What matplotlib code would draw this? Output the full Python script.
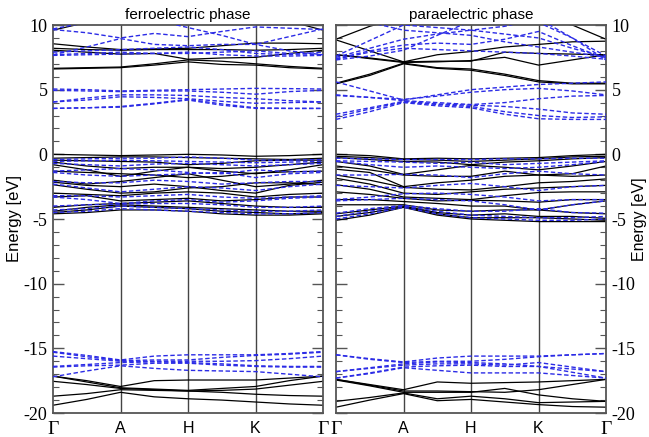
import matplotlib
matplotlib.use("Agg")
import matplotlib.pyplot as plt
from matplotlib.ticker import MultipleLocator

plt.rcParams["font.family"] = ["Liberation Serif", "DejaVu Serif"]
plt.rcParams["axes.unicode_minus"] = False

# k-path sample positions: Γ, ½, A, ½, H, ½, K, ½, Γ
kpath = [0, 0.5, 1, 1.5, 2, 2.5, 3, 3.5, 4]
klabels = ["Γ", "A", "H", "K", "Γ"]
kticks = [0, 1, 2, 3, 4]
titles = ["ferroelectric phase", "paraelectric phase"]
ylabel = "Energy [eV]"

# ---------------- ferroelectric phase ----------------
fe_black_cond = [
    [9.6, 10.2, 10.8, 11, 11, 11, 10.7, 10.3, 9.6],
    [8.55, 8.3, 8.1, 8.15, 8.2, 8.4, 8.6, 8.6, 8.55],
    [8.2, 8.1, 8.05, 8.1, 8.1, 8.1, 8.05, 8.1, 8.2],
    [8.05, 7.9, 7.75, 7.8, 7.35, 7.45, 7.5, 7.8, 8.05],
    [6.65, 6.7, 6.75, 7.0, 7.3, 7.2, 7.0, 6.8, 6.65],
    [6.6, 6.65, 6.7, 6.9, 7.15, 6.95, 6.9, 6.7, 6.6],
]
fe_blue_cond = [
    [9.65, 9.4, 9.0, 9.35, 9.1, 9.5, 9.85, 9.75, 9.65],
    [9.7, 10.2, 10.6, 10.4, 9.8, 9.2, 8.5, 9.1, 9.7],
    [7.7, 8.3, 8.95, 8.5, 8.4, 8.5, 8.5, 8.0, 7.7],
    [7.9, 8.0, 8.1, 8.2, 8.3, 8.1, 7.8, 7.7, 7.9],
    [7.7, 7.8, 7.9, 7.8, 7.8, 7.9, 8.0, 7.8, 7.7],
    [7.65, 7.7, 7.75, 7.8, 7.9, 7.7, 7.6, 7.6, 7.65],
    [5.05, 5.0, 4.9, 4.95, 5.0, 5.05, 5.1, 5.08, 5.05],
    [4.95, 4.9, 4.85, 4.9, 4.9, 4.8, 4.65, 4.85, 4.95],
    [4.05, 4.35, 4.6, 4.6, 4.55, 4.4, 4.3, 4.15, 4.05],
    [4.05, 4.2, 4.45, 4.4, 4.3, 4.1, 3.95, 4.0, 4.05],
    [3.55, 3.6, 3.7, 3.95, 4.25, 3.9, 3.6, 3.55, 3.55],
    [3.55, 3.6, 3.65, 3.9, 4.2, 3.8, 3.55, 3.55, 3.55],
]
fe_black_val = [
    [0.0, -0.05, -0.1, -0.05, 0.0, -0.05, -0.15, -0.1, 0.0],
    [-0.3, -0.25, -0.2, -0.2, -0.25, -0.3, -0.35, -0.4, -0.3],
    [-0.45, -0.5, -0.55, -0.6, -0.8, -0.7, -0.5, -0.45, -0.45],
    [-0.6, -0.9, -1.1, -1.0, -1.0, -1.1, -1.0, -0.8, -0.6],
    [-0.8, -1.2, -1.7, -1.3, -1.0, -1.3, -1.5, -1.2, -0.8],
    [-1.3, -1.4, -1.5, -1.6, -1.8, -1.7, -1.45, -1.35, -1.3],
    [-2.0, -2.3, -2.1, -1.8, -1.5, -2.0, -2.5, -2.3, -2.0],
    [-2.15, -2.4, -2.5, -2.3, -2.5, -2.8, -3.0, -2.4, -2.15],
    [-2.35, -2.7, -3.0, -2.9, -2.6, -2.5, -2.2, -2.2, -2.35],
    [-3.0, -3.1, -3.2, -3.0, -2.9, -3.0, -3.3, -3.1, -3.0],
    [-3.3, -3.2, -3.6, -3.5, -3.4, -3.6, -3.5, -3.3, -3.3],
    [-4.1, -3.9, -3.8, -3.7, -3.6, -3.8, -4.0, -4.1, -4.1],
    [-4.4, -4.1, -3.9, -4.0, -4.1, -4.2, -4.3, -4.4, -4.4],
    [-4.5, -4.3, -4.0, -4.1, -4.2, -4.4, -4.5, -4.6, -4.5],
    [-4.6, -4.5, -4.3, -4.3, -4.4, -4.6, -4.7, -4.7, -4.6],
]
fe_blue_val = [
    [-0.4, -0.35, -0.3, -0.3, -0.2, -0.3, -0.45, -0.45, -0.4],
    [-0.55, -0.5, -0.45, -0.5, -0.55, -0.6, -0.65, -0.6, -0.55],
    [-0.7, -0.8, -0.9, -0.75, -0.7, -0.8, -0.9, -0.8, -0.7],
    [-1.3, -1.2, -1.1, -1.2, -1.4, -1.5, -1.2, -1.35, -1.3],
    [-1.4, -1.6, -1.7, -1.6, -1.5, -1.4, -1.8, -1.5, -1.4],
    [-2.1, -2.2, -2.2, -2.0, -2.1, -2.3, -2.2, -2.1, -2.1],
    [-2.3, -2.6, -2.9, -2.7, -2.5, -2.6, -2.8, -2.5, -2.3],
    [-3.2, -3.2, -3.3, -3.2, -3.1, -3.3, -3.4, -3.3, -3.2],
    [-3.3, -3.5, -3.8, -3.6, -3.5, -3.7, -3.6, -3.4, -3.3],
    [-4.0, -3.9, -3.85, -3.8, -3.8, -3.9, -4.1, -4.1, -4.0],
    [-4.3, -4.2, -4.0, -4.1, -4.2, -4.3, -4.4, -4.4, -4.3],
    [-4.5, -4.4, -4.2, -4.3, -4.4, -4.5, -4.6, -4.6, -4.5],
]
fe_blue_core = [
    [-15.25, -15.55, -15.9, -15.6, -15.5, -15.5, -15.5, -15.4, -15.25],
    [-15.3, -15.65, -15.95, -15.9, -15.9, -15.7, -15.55, -15.45, -15.3],
    [-15.6, -15.8, -16.0, -16.0, -16.0, -16.0, -15.95, -15.8, -15.6],
    [-16.4, -16.25, -16.1, -16.05, -16.1, -16.2, -16.35, -16.4, -16.4],
    [-16.45, -16.35, -16.3, -16.15, -16.15, -16.3, -16.4, -16.45, -16.45],
    [-17.2, -16.75, -16.35, -16.55, -16.7, -16.75, -16.8, -17.0, -17.2],
]
fe_black_core = [
    [-17.15, -17.5, -17.95, -17.5, -17.45, -17.45, -17.45, -17.3, -17.15],
    [-17.15, -17.6, -18.05, -18.15, -18.25, -18.1, -17.95, -17.5, -17.15],
    [-17.55, -17.8, -18.1, -18.2, -18.3, -18.25, -18.15, -17.85, -17.55],
    [-18.7, -18.5, -18.2, -18.25, -18.3, -18.4, -18.55, -18.65, -18.7],
    [-19.4, -18.95, -18.4, -18.75, -18.9, -19.0, -19.15, -19.3, -19.4],
]

# ---------------- paraelectric phase ----------------
pe_black_cond = [
    [8.9, 9.9, 10.6, 11, 11, 11, 10.4, 10.0, 8.9],
    [8.85, 8.0, 7.15, 7.7, 7.95, 8.3, 8.5, 8.7, 8.75],
    [7.7, 7.45, 7.15, 7.2, 7.2, 7.9, 7.8, 7.75, 7.7],
    [7.7, 7.4, 7.1, 7.15, 7.25, 7.5, 6.9, 7.3, 7.7],
    [5.5, 6.2, 7.05, 6.7, 6.6, 6.2, 5.7, 5.5, 5.5],
    [5.45, 6.1, 7.0, 6.65, 6.5, 6.1, 5.6, 5.45, 5.45],
]
pe_blue_cond = [
    [7.6, 8.8, 10.0, 9.8, 9.6, 9.9, 10.5, 9.0, 7.6],
    [7.5, 8.2, 8.9, 9.3, 9.6, 9.3, 9.0, 8.2, 7.5],
    [7.4, 8.0, 8.45, 8.6, 8.5, 8.9, 9.5, 8.4, 7.4],
    [7.35, 7.9, 8.2, 8.1, 8.0, 7.9, 7.8, 7.6, 7.35],
    [7.3, 7.6, 8.05, 9.2, 10.3, 10.5, 10.2, 9.0, 7.3],
    [10.5, 10.2, 9.6, 9.4, 9.2, 8.7, 8.3, 7.9, 7.5],
    [5.6, 4.9, 4.2, 4.6, 5.0, 5.2, 5.4, 5.5, 5.6],
    [4.6, 4.4, 4.25, 4.5, 4.8, 5.0, 5.1, 4.9, 4.6],
    [4.55, 4.4, 4.15, 4.0, 3.85, 4.0, 4.3, 4.5, 4.55],
    [3.1, 3.6, 4.1, 3.9, 3.8, 3.7, 3.5, 3.2, 3.1],
    [2.9, 3.5, 4.05, 3.85, 3.7, 3.3, 3.0, 2.85, 2.9],
    [2.7, 3.3, 4.0, 3.75, 3.6, 3.1, 2.75, 2.7, 2.7],
]
pe_black_val = [
    [0.0, -0.1, -0.35, -0.3, -0.35, -0.3, -0.25, -0.1, 0.0],
    [-0.15, -0.25, -0.4, -0.45, -0.55, -0.45, -0.35, -0.2, -0.15],
    [-0.25, -0.4, -0.55, -0.6, -0.8, -0.6, -0.5, -0.35, -0.25],
    [-0.55, -0.9, -1.55, -1.2, -0.85, -1.0, -1.2, -0.9, -0.55],
    [-0.9, -1.2, -1.6, -1.7, -1.7, -1.3, -1.6, -1.5, -0.9],
    [-1.15, -1.4, -2.5, -2.2, -2.0, -1.7, -1.6, -1.7, -1.6],
    [-1.6, -2.0, -2.55, -2.7, -2.75, -2.5, -2.2, -2.1, -1.9],
    [-1.85, -2.3, -3.0, -3.1, -2.9, -2.7, -2.6, -2.5, -2.4],
    [-2.35, -2.7, -3.3, -3.4, -3.5, -3.2, -2.95, -2.9, -2.9],
    [-2.9, -3.1, -3.4, -3.6, -3.55, -3.6, -3.7, -3.5, -3.5],
    [-3.5, -3.5, -3.65, -3.8, -4.0, -4.0, -4.3, -3.9, -3.6],
    [-3.9, -3.9, -3.9, -4.3, -4.4, -4.3, -4.3, -4.5, -4.6],
    [-4.6, -4.3, -4.0, -4.5, -4.7, -4.6, -4.8, -4.8, -4.95],
    [-4.8, -4.5, -4.05, -4.6, -4.9, -4.9, -4.9, -5.0, -5.1],
    [-5.1, -4.7, -4.1, -4.7, -5.0, -5.1, -5.2, -5.2, -5.2],
]
pe_blue_val = [
    [-0.3, -0.35, -0.4, -0.4, -0.4, -0.35, -0.35, -0.3, -0.3],
    [-0.5, -0.55, -0.6, -0.7, -0.6, -0.8, -0.7, -0.6, -0.5],
    [-0.55, -0.8, -1.0, -0.9, -1.0, -1.1, -1.0, -0.8, -0.55],
    [-1.6, -1.6, -1.55, -1.6, -1.8, -1.5, -1.3, -1.5, -1.6],
    [-2.4, -2.5, -2.6, -2.4, -2.25, -2.5, -2.8, -2.5, -2.4],
    [-3.5, -3.3, -3.05, -3.0, -3.1, -3.3, -3.6, -3.5, -3.5],
    [-3.6, -3.5, -3.4, -3.5, -3.6, -3.9, -4.3, -3.9, -3.6],
    [-4.55, -4.2, -3.95, -4.2, -4.4, -4.4, -4.2, -4.5, -4.55],
    [-4.8, -4.4, -4.0, -4.4, -4.7, -4.8, -4.9, -4.9, -4.8],
    [-5.0, -4.6, -4.1, -4.6, -4.9, -5.0, -5.1, -5.1, -5.0],
]
pe_blue_core = [
    [-15.5, -15.8, -16.05, -15.75, -15.6, -15.6, -15.6, -15.5, -15.4],
    [-15.5, -15.85, -16.1, -16.0, -16.0, -15.85, -15.65, -15.5, -15.4],
    [-16.8, -16.5, -16.2, -16.05, -16.1, -16.2, -16.4, -16.6, -16.8],
    [-16.8, -16.55, -16.3, -16.2, -16.2, -16.3, -16.1, -16.45, -16.8],
    [-17.3, -16.9, -16.45, -16.35, -16.3, -16.4, -16.4, -16.85, -17.3],
    [-17.3, -16.95, -16.5, -16.7, -16.9, -16.9, -16.9, -17.1, -17.3],
]
pe_black_core = [
    [-17.4, -17.8, -18.2, -17.6, -17.7, -17.65, -17.6, -17.5, -17.4],
    [-17.4, -17.85, -18.3, -18.3, -18.35, -18.4, -18.2, -17.8, -17.4],
    [-17.45, -17.9, -18.4, -18.4, -18.4, -18.1, -18.6, -18.9, -19.1],
    [-19.1, -18.8, -18.45, -18.9, -18.7, -18.9, -19.2, -19.15, -19.1],
    [-19.55, -19.0, -18.5, -19.05, -18.95, -19.15, -19.35, -19.5, -19.55],
]

panels = [
    (fe_black_cond + fe_black_val + fe_black_core, fe_blue_cond + fe_blue_val + fe_blue_core),
    (pe_black_cond + pe_black_val + pe_black_core, pe_blue_cond + pe_blue_val + pe_blue_core),
]

W, H = 649, 437
fig = plt.figure(figsize=(W / 100, H / 100), dpi=100)
frame_col = "#555555"
ax_rects = [
    [53 / W, 1 - 413 / H, 270 / W, 388 / H],
    [336 / W, 1 - 413 / H, 270 / W, 388 / H],
]
sans = "Liberation Sans"

for i, (rect, (blacks, blues)) in enumerate(zip(ax_rects, panels)):
    ax = fig.add_axes(rect)
    for b in blacks:
        ax.plot(kpath, b, color="black", lw=0.9, zorder=2)
    for b in blues:
        ax.plot(kpath, b, color="#2b2be6", lw=1.0, dashes=(3.2, 1.8), zorder=3)
    for xv in kticks[1:-1]:
        ax.axvline(xv, color="#444444", lw=1.0, zorder=1)
    ax.set_xlim(0, 4)
    ax.set_ylim(-20, 10)
    ax.set_xticks(kticks)
    ax.set_xticklabels(klabels)
    ax.tick_params(axis="x", length=0, pad=6)
    for lab, txt in zip(ax.get_xticklabels(), klabels):
        if txt == "Γ":
            lab.set_fontsize(14)
        else:
            lab.set_fontfamily(sans)
            lab.set_fontsize(11.5)
    ax.yaxis.set_major_locator(MultipleLocator(5))
    ax.yaxis.set_minor_locator(MultipleLocator(1))
    if i == 1:
        ax.yaxis.tick_right()
    ax.tick_params(axis="y", which="major", direction="in", length=8, width=1.0,
                   left=True, right=True, color=frame_col, pad=4, labelsize=13)
    ax.tick_params(axis="y", which="minor", direction="in", length=4, width=0.8,
                   left=True, right=True, color=frame_col)
    for s in ax.spines.values():
        s.set_color(frame_col)
        s.set_linewidth(1.3)
    ax.set_title(titles[i], fontfamily=sans, fontsize=11, pad=4)
    if i == 0:
        ax.set_ylabel(ylabel, fontfamily=sans, fontsize=12)
        ax.yaxis.set_label_coords(-0.113, 0.5)
    else:
        ax.yaxis.set_label_position("right")
        ax.set_ylabel(ylabel, fontfamily=sans, fontsize=11.5, rotation=90)
        ax.yaxis.set_label_coords(1.098, 0.5)

fig.savefig("out.png", dpi=100)
